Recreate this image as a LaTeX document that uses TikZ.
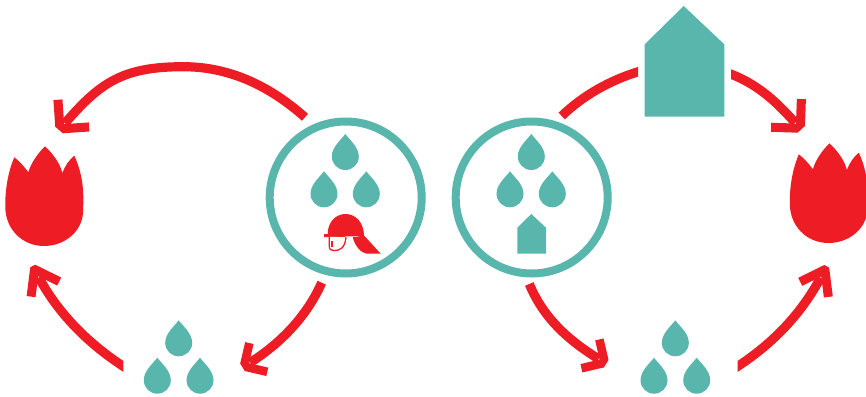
\documentclass[tikz,border=0pt]{standalone}
\usetikzlibrary{arrows.meta}
\definecolor{tred}{HTML}{EE1D25}
\definecolor{teal2}{HTML}{58B6AD}
% chevron head: #2 half bevel, (#3,#4) outer barb corner, (#5,#6) barb end, #7 inner corner, #8 line end
\newcommand\defchev[8]{%
\pgfdeclarearrow{name=#1,
 setup code={\pgfarrowssettipend{0pt}\pgfarrowssetlineend{#8pt}\pgfarrowssetbackend{#5pt}\pgfarrowssetvisualbackend{#5pt}},
 drawing code={%
  \pgfpathmoveto{\pgfqpoint{0pt}{#2pt}}%
  \pgfpathlineto{\pgfpoint{#3pt}{#4pt}}%
  \pgfpathlineto{\pgfpoint{#5pt}{#6pt}}%
  \pgfpathlineto{\pgfpoint{#7pt}{0pt}}%
  \pgfpathlineto{\pgfpoint{#5pt}{-#6pt}}%
  \pgfpathlineto{\pgfpoint{#3pt}{-#4pt}}%
  \pgfpathlineto{\pgfpoint{0pt}{-#2pt}}%
  \pgfpathclose\pgfusepathqfill}}}
\defchev{chevL}{5}{-18.9}{23.9}{-25.3}{17.5}{-7.8}{-9}
\defchev{chevS}{4.4}{-15.6}{20}{-21.7}{13.9}{-7.8}{-9}
\defchev{chevN}{2.75}{-23.6}{19.6}{-28.8}{12.3}{-11.5}{-13}
\tikzset{
 conn/.style={color=tred,line width=9.2pt},
 ring/.style={circle,draw=teal2,line width=8pt,minimum size=152pt,inner sep=0pt,fill=white},
 drop/.pic={\fill[teal2] (0,0) .. controls (4,5.5) and (13.5,13) .. (13.5,22.5)
   .. controls (13.5,30) and (7.5,36) .. (0,36) .. controls (-7.5,36) and (-13.5,30) .. (-13.5,22.5)
   .. controls (-13.5,13) and (-4,5.5) .. (0,0) -- cycle;},
 tulip/.pic={\fill[tred] (45,146.3) .. controls (53,154) and (60,163) .. (62.3,173)
   .. controls (65,166) and (69,160) .. (74.3,155.7)
   .. controls (80,168) and (83.5,182) .. (83.3,200) .. controls (83.3,204) and (83.2,208) .. (83,212)
   .. controls (82.5,231) and (65,246) .. (44,246) .. controls (22,246) and (5.5,229) .. (5.3,207)
   .. controls (5,190) and (8,172) .. (14.3,157.3) .. controls (19,161) and (24,166) .. (28.3,172.3)
   .. controls (31,163) and (38,153) .. (45,146.3) -- cycle;}
}
\begin{document}
\begin{tikzpicture}[x=1pt,y=-1pt]
\useasboundingbox (0,0) rectangle (866,396);
% circles
\node[ring] (cl) at (345.7,197.5) {};
\node[ring] (cr) at (531.7,197.5) {};
% drops
\foreach \n/\px/\py in {a/345.3/134,b/324/171.3,c/366.3/171.3,d/531.3/134,e/510/171.3,f/552.3/171.3,
  g/178.7/320.3,h/157.3/357.7,i/200/357.7,j/675.3/320.3,k/654/357.7,l/696.7/357.7}
  \pic (drop\n) at (\px,\py) {drop};
% tulips
\pic (tulipl) at (0,0) {tulip};
\pic (tulipr) at (784.5,-3) {tulip};
% houses
\fill[teal2] (683.7,6) -- (724.3,44.3) -- (724.3,116.7) -- (644.7,116.7) -- (644.7,44.3) -- cycle;
\fill[teal2] (531.3,214) -- (546,227.7) -- (546,253.7) -- (517.3,253.7) -- (517.3,227.7) -- cycle;
% helmet
\fill[tred] (327.7,234) .. controls (327.7,223) and (335,214) .. (345.5,214)
  .. controls (356,214) and (364,223) .. (364,236) -- (345,236.5) -- (345,237) -- (324,237) -- (324,234) -- cycle;
\draw[tred,line width=1.3pt,fill=white] (329.3,236.8) -- (329.3,246) .. controls (329.3,249.5) and (331,250.6) .. (334,250.6)
  .. controls (340,250.6) and (345,248) .. (346,237.2);
\fill[tred] (331,240.7) rectangle (333,246.7);
\fill[tred] (352.7,237.3) -- (364,235.5) -- (380.7,253.7) -- (366.7,253.7)
  .. controls (361,253) and (355,246) .. (352.7,237.3) -- cycle;
% connector ends
\coordinate (a1s) at (305,117.3);  \coordinate (a1m) at (183.3,66.7); \coordinate (a1e) at (59,130);
\coordinate (a2s) at (321.7,282.7); \coordinate (a2e) at (242.5,367.3);
\coordinate (a3s) at (129,370); \coordinate (a3e) at (32.7,266);
\coordinate (a4s) at (529.3,284);  \coordinate (a4e) at (606.2,363.7);
\coordinate (a5s) at (561.7,116);  \coordinate (a5m) at (644,70);
\coordinate (a6s) at (725,72);   \coordinate (a6e) at (801.3,129.3);
\coordinate (a7s) at (732,370); \coordinate (a7e) at (826.7,266.3);
% connectors
\draw[conn,-{chevL}] (a1s) .. controls (272,88) and (232,66.7) .. (a1m)
   .. controls (122,66.7) and (100,83) .. (a1e);
\draw[conn,-{chevS}] (a2s) .. controls (305.7,319.1) and (276.5,346.1) .. (a2e);
\begin{scope}
 \clip (0,250) rectangle (123.3,396);
 \draw[conn,-{chevN}] (a3s) .. controls (85,342.5) and (56.4,310) .. (a3e);
\end{scope}
\draw[conn,-{chevS}] (a4s) .. controls (544.5,320.8) and (572.2,342.5) .. (a4e);
\begin{scope}
 \clip (550,50) rectangle (638,130);
 \draw[conn] (a5s) .. controls (583.3,95.3) and (611,79.3) .. (a5m);
\end{scope}
\begin{scope}
 \clip (731,50) rectangle (830,150);
 \draw[conn,-{chevL}] (a6s) .. controls (760.8,84) and (780.9,107.4) .. (a6e);
\end{scope}
\begin{scope}
 \clip (737.7,250) rectangle (866,396);
 \draw[conn,-{chevN}] (a7s) .. controls (776,342.5) and (803,310.3) .. (a7e);
\end{scope}
\end{tikzpicture}
\end{document}
